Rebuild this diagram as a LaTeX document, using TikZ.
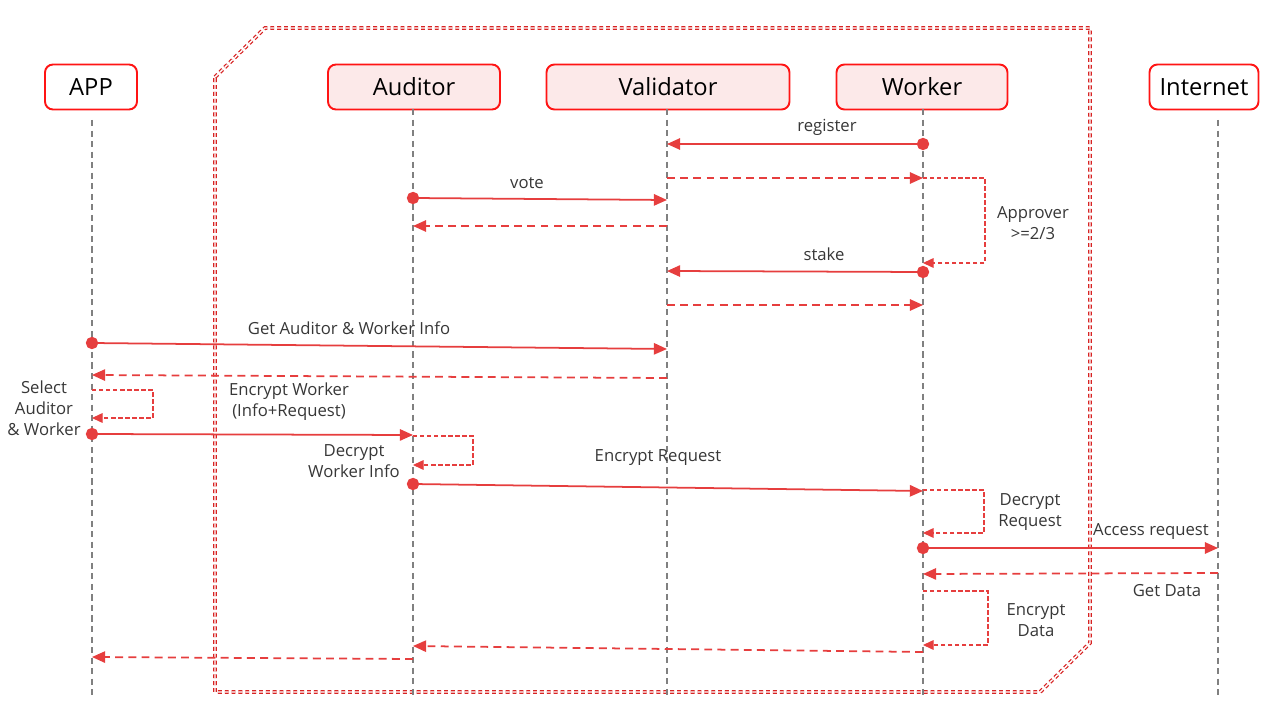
\documentclass[tikz,border=0pt]{standalone}
\usepackage{fontspec}
\setmainfont{Open Sans}
\usetikzlibrary{arrows.meta}
\definecolor{msgred}{RGB}{230,62,62}
\definecolor{boxred}{RGB}{255,20,20}
\definecolor{boxfill}{RGB}{252,233,233}
\definecolor{txtgray}{RGB}{55,55,55}
\definecolor{bordred}{RGB}{215,35,35}

\begin{document}
\begin{tikzpicture}[
    x=0.02cm, y=-0.02cm,
    every node/.style={font=\fontsize{9.5}{12}\selectfont, text=txtgray, align=center},
    actor/.style={draw=boxred, line width=1.1pt, rounded corners=4.5pt, minimum height=0.9cm,
                  inner sep=0pt, font=\fontsize{13.5}{16}\selectfont, text=black},
    inside/.style={actor, fill=boxfill},
    life/.style={draw=gray, line width=0.7pt, dash pattern=on 3.5pt off 2.5pt},
    call/.style={draw=msgred, line width=1pt, shorten <=-3.5pt,
                 {Circle[length=7pt]}-{Triangle[length=7.5pt,width=6.5pt]}},
    reply/.style={draw=msgred, line width=1pt, dash pattern=on 4.5pt off 3pt,
                  -{Triangle[length=7.5pt,width=6.5pt]}},
    selfmsg/.style={draw=msgred, line width=0.6pt, dash pattern=on 2.5pt off 1.5pt,
                    -{Triangle[length=6pt,width=5.5pt]}}
  ]
  \useasboundingbox (0,0) rectangle (1269,716);

  % trusted zone
  \draw[bordred, line width=0.7pt, double, double distance=0.8pt, dash pattern=on 2.2pt off 1.7pt]
    (215,77) -- (265,28) -- (1090,28) -- (1090,643) -- (1040,692) -- (215,692) -- cycle;

  % participants
  \node[actor, minimum width=1.84cm] (appBox) at (91,87) {APP};
  \node[inside, minimum width=3.44cm] (audBox) at (414,87) {Auditor};
  \node[inside, minimum width=4.86cm] (valBox) at (668,87) {Validator};
  \node[inside, minimum width=3.42cm] (wrkBox) at (922,87) {Worker};
  \node[actor, minimum width=2.18cm] (intBox) at (1204,87) {Internet};

  % lifelines
  \foreach \n/\x/\t in {app/92/120, aud/413/109, val/667/109, wrk/923/109, int/1218/120} {
    \coordinate (\n) at (\x,695);
    \draw[life] (\x,\t) -- (\n);
  }

  % worker registration
  \draw[call] (wrk |- 0,144) -- (val |- 0,144);
  \node (tReg) at (827,127) {register};
  \draw[reply] (val |- 0,178) -- (wrk |- 0,178);
  \draw[selfmsg] (wrk |- 0,178) -- ++(62,0) |- (wrk |- 0,263);
  \node (tAppr) at (1033,223) {Approver\\>=2/3};
  \draw[call] (aud |- 0,198) -- (val |- 0,200);
  \node (tVote) at (527,183) {vote};
  \draw[reply] (val |- 0,226) -- (aud |- 0,226);
  \draw[call] (wrk |- 0,272) -- (val |- 0,271);
  \node (tStake) at (824,254) {stake};
  \draw[reply] (val |- 0,305) -- (wrk |- 0,305);

  % request flow
  \draw[call] (app |- 0,343) -- (val |- 0,349);
  \node (tInfo) at (349,328) {Get Auditor \& Worker Info};
  \draw[reply] (val |- 0,378) -- (app |- 0,375);
  \draw[selfmsg] (app |- 0,390) -- ++(61,0) |- (app |- 0,418);
  \node (tSel) at (44,408) {Select\\Auditor\\\& Worker};
  \draw[call] (app |- 0,434) -- (aud |- 0,435);
  \node (tEncW) at (289,402) {Encrypt Worker\\(Info+Request)};
  \draw[selfmsg] (aud |- 0,436) -- ++(60,0) |- (aud |- 0,465);
  \node (tDecW) at (354,461) {Decrypt\\Worker Info};
  \draw[call] (aud |- 0,484) -- (wrk |- 0,491);
  \node (tEncR) at (658,458) {Encrypt Request};
  \draw[selfmsg] (wrk |- 0,490) -- ++(61,0) |- (wrk |- 0,533);
  \node (tDecR) at (1030,512) {Decrypt\\Request};
  \draw[call] (wrk |- 0,548) -- (int |- 0,548);
  \node (tAcc) at (1151,532) {Access request};
  \draw[reply] (int |- 0,573) -- (wrk |- 0,574);
  \node (tGet) at (1167,591) {Get Data};
  \draw[selfmsg] (wrk |- 0,591) -- ++(65,0) |- (wrk |- 0,645);
  \node (tEncD) at (1036,620) {Encrypt\\Data};
  \draw[reply] (wrk |- 0,652) -- (aud |- 0,646);
  \draw[reply] (aud |- 0,659) -- (app |- 0,657);
\end{tikzpicture}
\end{document}
